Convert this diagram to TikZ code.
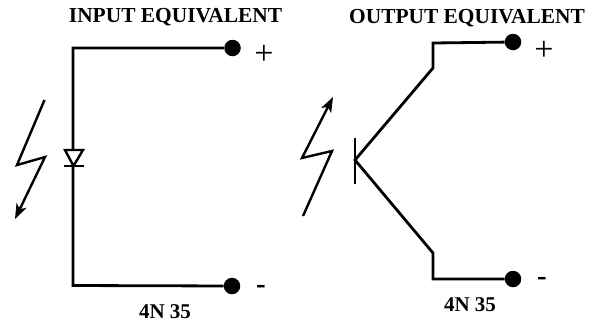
\documentclass[tikz,border=0pt]{standalone}
\usepackage{fontspec}
\setmainfont{Liberation Serif}
\usepackage{tikz}
\usetikzlibrary{arrows.meta}
\tikzset{>/.tip={Stealth[open,length=15pt,width=11pt,inset=4pt]},
  wire/.style={line width=2.8pt,line join=miter},
  flash/.style={line width=2.4pt,line join=miter},
  term/.style={circle,fill=black,inner sep=0pt,minimum size=16.5pt},
  title/.style={font=\bfseries\fontsize{21.4}{23}\selectfont,inner sep=0pt},
  partno/.style={font=\bfseries\fontsize{21}{23}\selectfont,inner sep=0pt},
  plus/.style={font=\fontsize{34}{36}\selectfont,inner sep=0pt},
  sign/.style={font=\bfseries\fontsize{29}{31}\selectfont,inner sep=0pt}}

\begin{document}
\begin{tikzpicture}[x=1pt,y=-1pt]
\useasboundingbox (0,0) rectangle (594,322);
% input side
\node[title] (intitle) at (175.5,17) {INPUT EQUIVALENT};
\node[term] (inplus) at (232.5,48) {};
\node[term] (inminus) at (232,286) {};
\node[plus] (inp) at (264,55) {+};
\node[sign] (inm) at (261,289) {-};
\node[partno] (inpart) at (165,312) {4N 35};
\coordinate (c1) at (73,48);
\coordinate (c2) at (73,285.5);
\coordinate (da) at (73.5,166);
\coordinate (dl) at (65,150);
\coordinate (dr) at (83,150);
\coordinate (bl) at (64,166);
\coordinate (br) at (84,166);
\coordinate (f1) at (44.5,100);
\coordinate (f2) at (17,165);
\coordinate (f3) at (45,157);
\coordinate (f4) at (15,219);
\draw[wire] (inplus) -- (c1) -- (c2) -- (inminus);
\draw[flash,fill=white] (dl) -- (dr) -- (da) -- cycle;
\draw[wire] (bl) -- (br);
\draw[flash,->] (f1) -- (f2) -- (f3) -- (f4);
% output side
\node[title] (outtitle) at (467,18) {OUTPUT EQUIVALENT};
\node[term] (outplus) at (513,42) {};
\node[term] (outminus) at (513,279) {};
\node[plus] (outp) at (544,51) {+};
\node[sign] (outm) at (542,281) {-};
\node[partno] (outpart) at (470,305) {4N 35};
\coordinate (k1) at (433,43);
\coordinate (k2) at (433,68);
\coordinate (k3) at (355,160);
\coordinate (k4) at (433,253);
\coordinate (k5) at (433,279);
\coordinate (b1) at (355,138);
\coordinate (b2) at (355,184);
\coordinate (g1) at (303,216);
\coordinate (g2) at (332,151);
\coordinate (g3) at (302,158);
\coordinate (g4) at (333,97);
\draw[wire] (outplus) -- (k1) -- (k2) -- (k3) -- (k4) -- (k5) -- (outminus);
\draw[wire] (b1) -- (b2);
\draw[flash,->] (g1) -- (g2) -- (g3) -- (g4);
\end{tikzpicture}
\end{document}
